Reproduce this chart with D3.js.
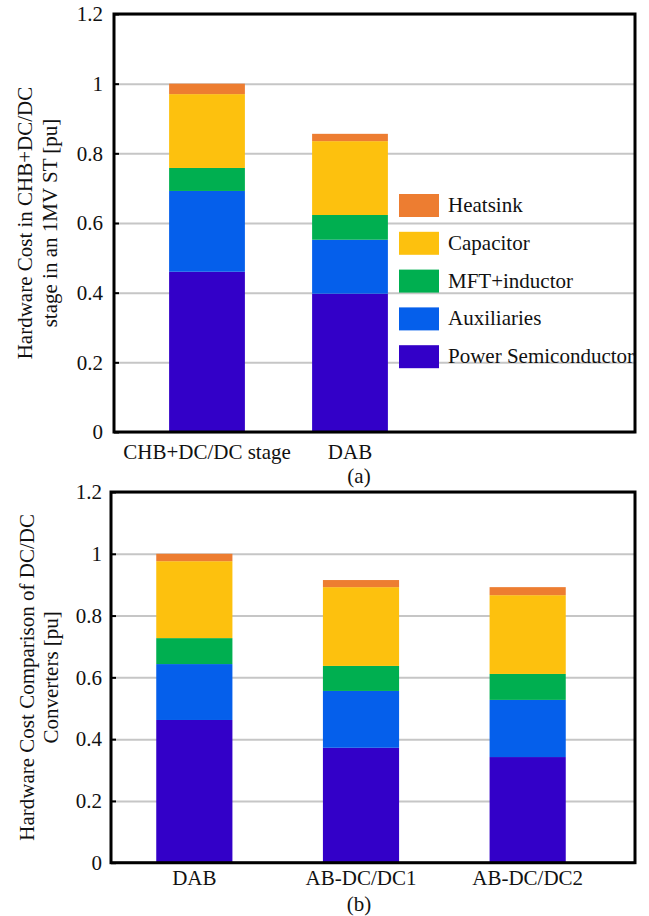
<!DOCTYPE html>
<html>
<head>
<meta charset="utf-8">
<script src="https://cdn.jsdelivr.net/npm/d3@7"></script>
<style>
  body { margin: 0; background: #fff; }
  text { font-family: "Liberation Serif", "Times New Roman", serif; fill: #111; }
</style>
</head>
<body>
<svg id="fig" width="649" height="916"></svg>
<script>
// series, bottom to top of each stacked bar
let series = ["Power Semiconductor", "Auxiliaries", "MFT+inductor", "Capacitor", "Heatsink"];
let colors = ["#3300c8", "#055feb", "#00af50", "#fdc10e", "#ed7d31"];

// (a) CHB+DC/DC stage vs DAB
let cats_a = ["CHB+DC/DC stage", "DAB"];
let semi_a = [0.460, 0.397];
let aux_a = [0.232, 0.155];
let mft_a = [0.066, 0.071];
let cap_a = [0.212, 0.212];
let heat_a = [0.030, 0.021];

// (b) DC/DC converters
let cats_b = ["DAB", "AB-DC/DC1", "AB-DC/DC2"];
let semi_b = [0.462, 0.372, 0.342];
let aux_b = [0.181, 0.184, 0.185];
let mft_b = [0.084, 0.081, 0.084];
let cap_b = [0.249, 0.255, 0.255];
let heat_b = [0.024, 0.023, 0.026];

let y_ticks = [0, 0.2, 0.4, 0.6, 0.8, 1, 1.2];
let y_tick_labels = ["0", "0.2", "0.4", "0.6", "0.8", "1", "1.2"];

let svg = d3.select("#fig");

function make_rows(cats, cols) {
    return cats.map((c, i) => {
        let row = {cat: c};
        series.forEach((s, j) => row[s] = cols[j][i]);
        return row;
    });
}

function draw_chart(opt) {
    let g = svg.append("g");
    let rows = make_rows(opt.cats, opt.cols);
    let stacked = d3.stack().keys(series)(rows);

    let x = d3.scaleBand()
        .domain(opt.cats)
        .range(opt.band_range)
        .paddingInner(opt.pad)
        .paddingOuter(opt.pad / 2);
    let y = d3.scaleLinear().domain([0, 1.2]).range([opt.bottom, opt.top]);

    // grid
    g.append("g")
        .attr("transform", `translate(${opt.left},0)`)
        .call(d3.axisLeft(y).tickValues(y_ticks).tickSize(-(opt.right - opt.left)).tickFormat(""))
        .call(a => a.select(".domain").remove())
        .call(a => a.selectAll("line").attr("stroke", "#c6c6c6").attr("stroke-width", 2));

    // bars
    g.append("g")
        .selectAll("g")
        .data(stacked)
        .join("g")
        .attr("fill", (d, i) => colors[i])
        .selectAll("rect")
        .data(d => d)
        .join("rect")
        .attr("x", d => x(d.data.cat))
        .attr("width", x.bandwidth())
        .attr("y", d => y(d[1]))
        .attr("height", d => y(d[0]) - y(d[1]));

    // y axis ticks + labels
    g.append("g")
        .attr("transform", `translate(${opt.left},0)`)
        .call(d3.axisLeft(y).tickValues(y_ticks).tickSize(-5).tickPadding(opt.ypad)
            .tickFormat((d, i) => y_tick_labels[i]))
        .call(a => a.select(".domain").remove())
        .call(a => a.selectAll("line").attr("stroke", "#000").attr("stroke-width", 2))
        .call(a => a.selectAll("text").attr("font-size", 21).attr("font-family", "Liberation Serif").attr("fill", "#111"));

    // x labels
    g.append("g")
        .attr("transform", `translate(0,${opt.bottom})`)
        .call(d3.axisBottom(x).tickSize(0).tickPadding(opt.xpad))
        .call(a => a.select(".domain").remove())
        .call(a => a.selectAll("text").attr("font-size", 21).attr("font-family", "Liberation Serif").attr("fill", "#111"));

    // frame
    g.append("rect")
        .attr("x", opt.left).attr("y", opt.top)
        .attr("width", opt.right - opt.left).attr("height", opt.bottom - opt.top)
        .attr("fill", "none").attr("stroke", "#000").attr("stroke-width", 3);

    // y title
    let mid = (opt.top + opt.bottom) / 2;
    opt.title.forEach((t, i) => {
        g.append("text")
            .attr("transform", `translate(${opt.title_x[i]},${mid}) rotate(-90)`)
            .attr("text-anchor", "middle")
            .attr("font-size", 21)
            .text(t);
    });

    // caption
    g.append("text")
        .attr("x", 359).attr("y", opt.cap_y)
        .attr("text-anchor", "middle")
        .attr("font-size", 21)
        .text(opt.caption);

    return {x, y};
}

let chart_a = draw_chart({
    cats: cats_a, cols: [semi_a, aux_a, mft_a, cap_a, heat_a],
    left: 114, right: 635, top: 14, bottom: 432,
    band_range: [135.5, 421.5], pad: 0.47,
    ypad: 11, xpad: 12,
    title: ["Hardware Cost in CHB+DC/DC", "stage in an 1MV ST [pu]"],
    title_x: [32, 57],
    caption: "(a)", cap_y: 483
});

// legend (inside chart a)
let legend = svg.append("g").attr("transform", "translate(399,194)");
let leg_items = series.slice().reverse();
let leg = legend.selectAll("g")
    .data(leg_items)
    .join("g")
    .attr("transform", (d, i) => `translate(0,${i * 37.8})`);
leg.append("rect")
    .attr("width", 40).attr("height", 23)
    .attr("fill", d => colors[series.indexOf(d)]);
leg.append("text")
    .attr("x", 49).attr("y", 18)
    .attr("font-size", 21)
    .text(d => d);

let chart_b = draw_chart({
    cats: cats_b, cols: [semi_b, aux_b, mft_b, cap_b, heat_b],
    left: 111, right: 635, top: 492, bottom: 862.7,
    band_range: [111, 611], pad: 0.543,
    ypad: 9, xpad: 7,
    title: ["Hardware Cost Comparison of DC/DC", "Converters [pu]"],
    title_x: [34, 58],
    caption: "(b)", cap_y: 911
});
</script>
</body>
</html>
